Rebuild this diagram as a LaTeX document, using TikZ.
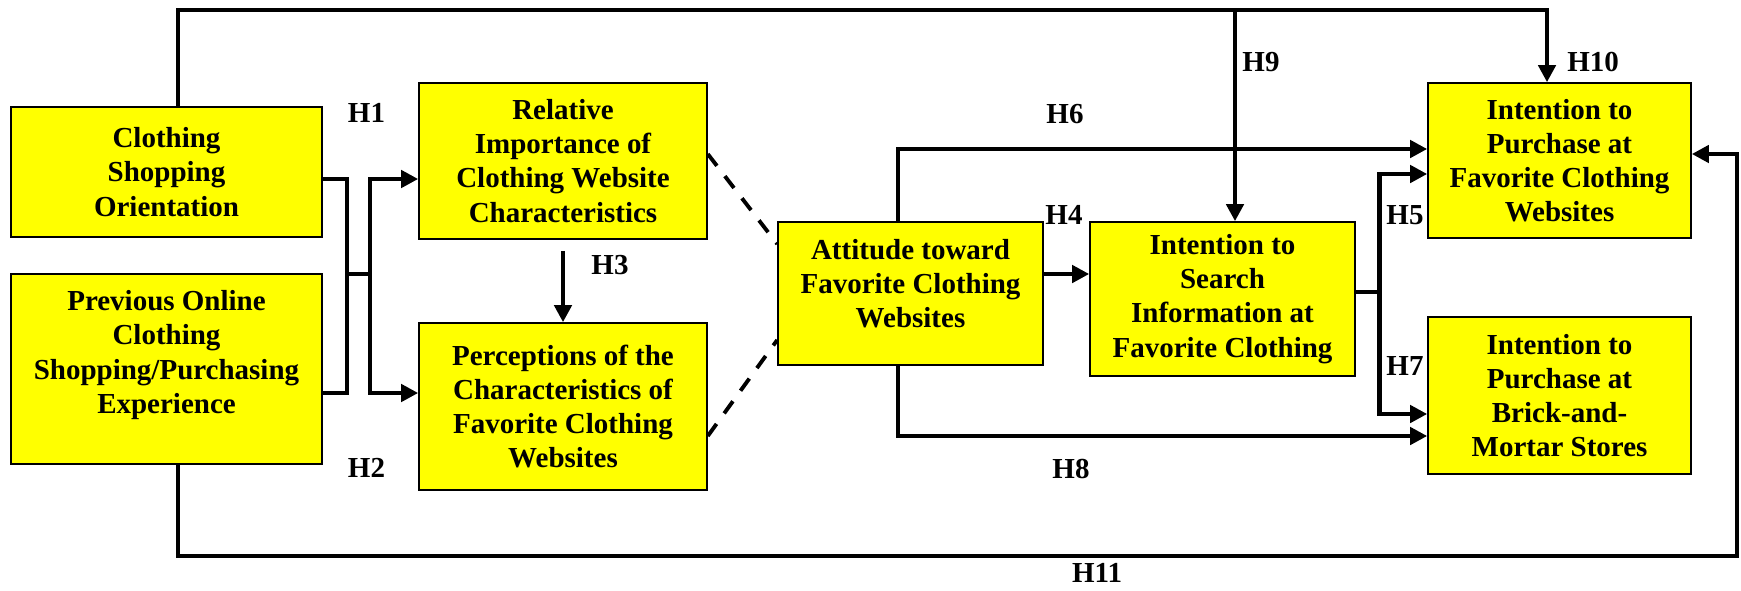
\documentclass[tikz,border=0pt]{standalone}
\usepackage{fontspec}
\setmainfont{Liberation Serif}
\usetikzlibrary{arrows.meta}
\definecolor{boxyellow}{RGB}{255,255,0}

\begin{document}
\begin{tikzpicture}[
    construct/.style={draw, line width=0.9pt, fill=boxyellow, inner sep=2pt, align=center, font=\fontsize{16.5}{19.4}\selectfont\bfseries},
    link/.style={line width=2.8pt},
    arrow/.style={link, -{Triangle[length=0.34cm, width=0.34cm]}},
    dashlink/.style={line width=2.2pt, dash pattern=on 8.5pt off 7.4pt},
    hyp/.style={font=\fontsize{16.5}{19.4}\selectfont\bfseries}
]
    \useasboundingbox (0,0) rectangle (34.82,-11.8);

    \node[construct, minimum width=6.22cm, minimum height=2.6cm] (A) at (3.33,-3.44) {Clothing\\Shopping\\Orientation};
    \node[construct, minimum width=6.22cm, minimum height=3.8cm] (B) at (3.33,-7.38) {Previous Online\\Clothing\\Shopping/Purchasing\\Experience\\\mbox{}};
    \node[construct, minimum width=5.76cm, minimum height=3.12cm] (C) at (11.26,-3.22) {Relative\\Importance of\\Clothing Website\\Characteristics};
    \node[construct, minimum width=5.76cm, minimum height=3.34cm] (D) at (11.26,-8.13) {Perceptions of the\\Characteristics of\\Favorite Clothing\\Websites};
    \node[construct, minimum width=5.3cm, minimum height=2.86cm] (E) at (18.21,-5.87) {Attitude toward\\Favorite Clothing\\Websites\\[-8pt]\mbox{}};
    \node[construct, minimum width=5.3cm, minimum height=3.08cm] (F) at (24.45,-5.98) {Intention to\\Search\\Information at\\Favorite Clothing};
    \node[construct, minimum width=5.26cm, minimum height=3.1cm] (G) at (31.19,-3.21) {Intention to\\Purchase at\\Favorite Clothing\\Websites};
    \node[construct, minimum width=5.26cm, minimum height=3.14cm] (H) at (31.19,-7.91) {Intention to\\Purchase at\\Brick-and-\\Mortar Stores};

    % routing points
    \coordinate (top) at (0,-0.2);
    \coordinate (bot) at (0,-11.12);
    \coordinate (rgt) at (34.74,0);
    \coordinate (joinL) at (6.94,-5.48);
    \coordinate (joinR) at (7.4,-5.48);
    \coordinate (fork) at ([xshift=0.48cm, yshift=0.14cm]F.east);

    % H1, H2
    \draw[link] ([yshift=-0.14cm]A.east) -| (joinL) |- ([yshift=-0.48cm]B.east);
    \draw[link] (joinL) -- (joinR);
    \draw[arrow] (joinR) |- ([yshift=-0.36cm]C.west);
    \draw[arrow] (joinR) |- ([yshift=0.27cm]D.west);
    % H3
    \draw[arrow] ([yshift=-0.22cm]C.south) -- (D.north);
    % dashed
    \draw[dashlink] ([yshift=0.14cm]C.east) -- ([yshift=0.99cm]E.west);
    \draw[dashlink] ([yshift=-0.59cm]D.east) -- ([yshift=-0.93cm]E.west);
    % H4
    \draw[arrow] ([yshift=0.39cm]E.east) -- ([yshift=0.39cm]E.east -| F.west);
    % H5, H7
    \draw[link] ([yshift=0.14cm]F.east) -- (fork);
    \draw[arrow] (fork) |- ([yshift=-0.27cm]G.west);
    \draw[arrow] (fork) |- ([yshift=-0.37cm]H.west);
    % H6, H8
    \draw[arrow] ([xshift=-0.25cm]E.north) |- ([yshift=0.23cm]G.west);
    \draw[arrow] ([xshift=-0.25cm]E.south) |- ([yshift=-0.81cm]H.west);
    % H9, H10
    \draw[arrow] ([xshift=0.23cm]A.north) |- ([xshift=-0.25cm]G.north |- top) -- ([xshift=-0.25cm]G.north);
    \draw[arrow] ([xshift=0.25cm]F.north |- top) -- ([xshift=0.25cm]F.north);
    % H11
    \draw[arrow] ([xshift=0.23cm]B.south) |- (rgt |- bot) |- ([yshift=0.13cm]G.east);

    \node[hyp] (h1) at (7.33,-2.25) {H1};
    \node[hyp] (h2) at (7.33,-9.36) {H2};
    \node[hyp] (h3) at (12.2,-5.3) {H3};
    \node[hyp] (h4) at (21.28,-4.3) {H4};
    \node[hyp] (h5) at (28.1,-4.3) {H5};
    \node[hyp] (h6) at (21.3,-2.28) {H6};
    \node[hyp] (h7) at (28.1,-7.32) {H7};
    \node[hyp] (h8) at (21.42,-9.38) {H8};
    \node[hyp] (h9) at (25.22,-1.24) {H9};
    \node[hyp] (h10) at (31.86,-1.24) {H10};
    \node[hyp] (h11) at (21.94,-11.46) {H11};
\end{tikzpicture}
\end{document}
